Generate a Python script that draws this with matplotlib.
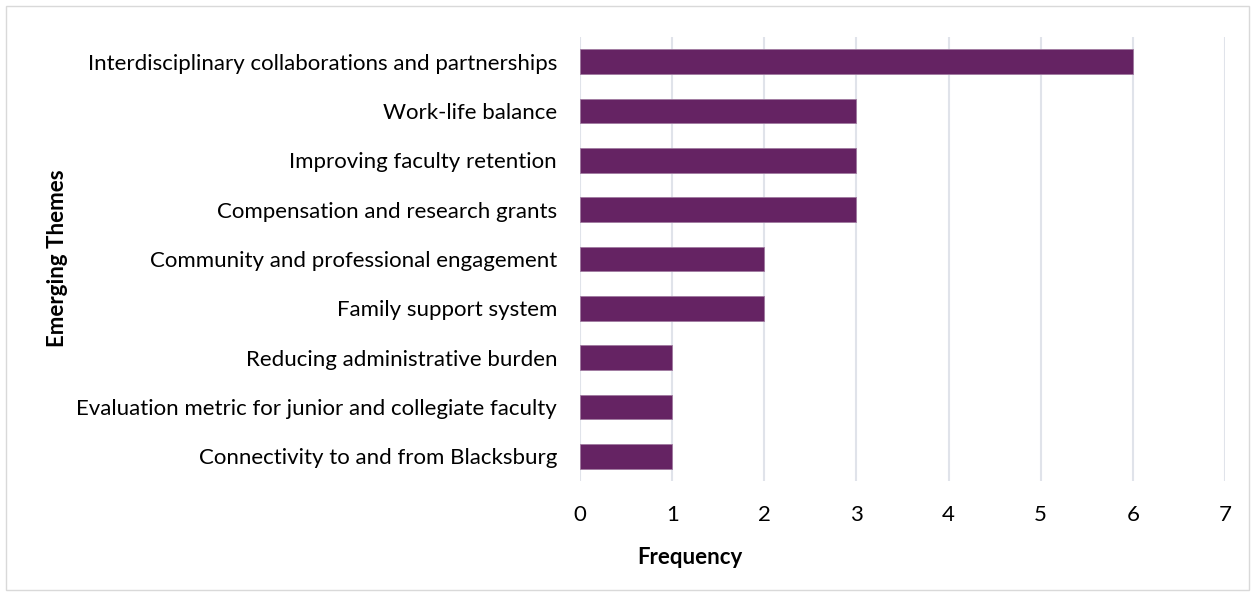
import matplotlib
matplotlib.use("Agg")
import matplotlib.pyplot as plt
from matplotlib.patches import Rectangle

categories = [
    "Interdisciplinary collaborations and partnerships",
    "Work-life balance",
    "Improving faculty retention",
    "Compensation and research grants",
    "Community and professional engagement",
    "Family support system",
    "Reducing administrative burden",
    "Evaluation metric for junior and collegiate faculty",
    "Connectivity to and from Blacksburg",
]
frequency = [6, 3, 3, 3, 2, 2, 1, 1, 1]
xticks = [0, 1, 2, 3, 4, 5, 6, 7]

plt.rcParams['font.family'] = ['Lato', 'DejaVu Sans']

W, H = 1251, 592
fig = plt.figure(figsize=(W / 100, H / 100), dpi=100)
fig.patch.set_facecolor('white')
fig.patches.append(Rectangle((6 / W, 2 / H), (W - 8) / W, (H - 8) / H, transform=fig.transFigure,
                             fill=False, edgecolor='#d9d9d9', linewidth=1.0))

ax = fig.add_axes([580 / W, 1 - 481 / H, (1225 - 580) / W, (481 - 37) / H])
ypos = list(range(len(categories)))
ax.barh(ypos, frequency, height=0.5, color='#652363', edgecolor='#a07aa0', linewidth=0.6, zorder=3)
ax.set_ylim(len(categories) - 0.5, -0.5)
ax.set_xlim(0, 7)
ax.set_xticks(xticks)
ax.set_xticklabels([str(t) for t in xticks], fontsize=16)
ax.set_yticks(ypos)
ax.set_yticklabels(categories, fontsize=16)
ax.tick_params(axis='both', length=0, colors='black')
ax.tick_params(axis='x', pad=17)
ax.tick_params(axis='y', pad=16.5)
ax.grid(axis='x', color='#e0e3ea', linewidth=1.5, zorder=0)
for s in ax.spines.values():
    s.set_visible(False)

fig.text(690 / W, 1 - 557 / H, "Frequency", fontsize=16, fontweight='bold', ha='center', va='center')
fig.text(57 / W, 1 - 258 / H, "Emerging Themes", fontsize=16, fontweight='bold', ha='center', va='center',
         rotation=90)

fig.savefig("out.png", dpi=100)
